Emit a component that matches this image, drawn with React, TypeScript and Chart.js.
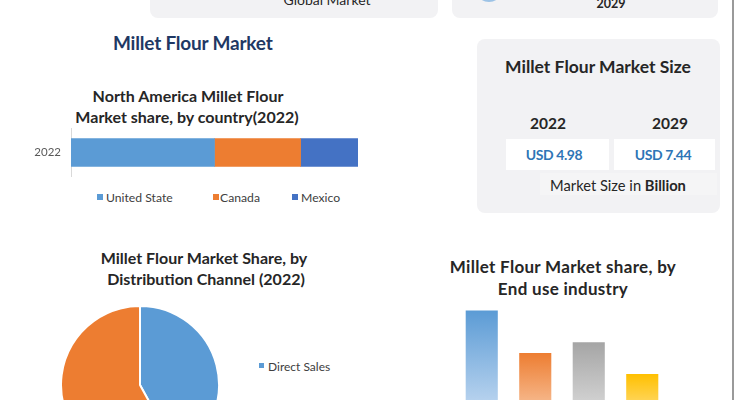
import React, { useEffect, useRef } from "react";
import { Chart, registerables } from "chart.js";

Chart.register(...registerables);

// ---------- data ----------
const countryYears = ["2022"];
const countryLabels = ["United State", "Canada", "Mexico"];
const countryShares = [50, 30, 20];
const countryColors = ["#5b9bd5", "#ed7d31", "#4472c4"];

const channelLabels = ["Direct Sales", "Indirect Sales"];
const channelShares = [42, 58];
const channelColors = ["#5b9bd5", "#ed7d31"];

const endUseLabels = ["Bakery Products", "Snacks", "Infant Food", "Others"];
const endUseShares = [36.5, 22.3, 25.9, 15.3];
const endUseTopColors = ["#5b9bd5", "#ed7d31", "#a5a5a5", "#ffc000"];
const endUseBottomColors = ["#c9ddf3", "#f9cba9", "#dedede", "#ffe291"];

const sizeYears = ["2022", "2029"];
const sizeValues = ["USD 4.98", "USD 7.44"];

const F = "Lato, 'Open Sans', sans-serif";

type TP = {
  x: number;
  y: number;
  size: number;
  weight?: number;
  color?: string;
  align?: "center" | "left";
  ls?: number;
  children: React.ReactNode;
};

function T({ x, y, size, weight = 400, color = "#262626", align = "center", ls = 0, children }: TP) {
  const lh = Math.round(size * 1.4);
  const w = 400;
  const style: React.CSSProperties = {
    position: "absolute",
    top: y - lh / 2,
    left: align === "center" ? x - w / 2 : x,
    width: align === "center" ? w : undefined,
    textAlign: align,
    fontSize: size,
    fontWeight: weight,
    lineHeight: lh + "px",
    color,
    letterSpacing: ls,
    whiteSpace: "nowrap",
    fontFamily: F,
  };
  return <div style={style}>{children}</div>;
}

function Box({ l, t, r, b, bg = "#f2f2f4", rad = 8 }: { l: number; t: number; r: number; b: number; bg?: string; rad?: number }) {
  return (
    <div
      style={{
        position: "absolute",
        left: l,
        top: t,
        width: r - l,
        height: b - t,
        background: bg,
        borderRadius: rad,
      }}
    />
  );
}

function CountryChart() {
  const ref = useRef<HTMLCanvasElement>(null);
  useEffect(() => {
    const chart = new Chart(ref.current!, {
      type: "bar",
      data: {
        labels: countryYears,
        datasets: countryLabels.map((l, i) => ({
          label: l,
          data: [countryShares[i]],
          backgroundColor: countryColors[i],
          borderWidth: 0,
          barThickness: 28,
        })),
      },
      options: {
        indexAxis: "y",
        responsive: false,
        animation: false,
        layout: { padding: 0 },
        plugins: { legend: { display: false }, tooltip: { enabled: false } },
        scales: {
          x: { stacked: true, display: false, min: 0, max: 100 },
          y: {
            stacked: true,
            grid: { display: false },
            border: { display: true, color: "#d9d9d9", width: 1 },
            ticks: { color: "#595959", font: { family: F, size: 11.5 }, padding: 2 },
            afterFit: (s: any) => {
              s.width = 50;
            },
          },
        },
      },
    });
    return () => chart.destroy();
  }, []);
  return (
    <canvas
      ref={ref}
      width={337}
      height={65}
      style={{ position: "absolute", left: 21, top: 120, width: 337, height: 65 }}
    />
  );
}

function ChannelChart() {
  const ref = useRef<HTMLCanvasElement>(null);
  useEffect(() => {
    const chart = new Chart(ref.current!, {
      type: "pie",
      data: {
        labels: channelLabels,
        datasets: [
          {
            data: channelShares,
            backgroundColor: channelColors,
            borderColor: "#ffffff",
            borderWidth: 2,
          },
        ],
      },
      options: {
        responsive: false,
        animation: false,
        layout: { padding: 0 },
        plugins: { legend: { display: false }, tooltip: { enabled: false } },
      },
    });
    return () => chart.destroy();
  }, []);
  return (
    <canvas
      ref={ref}
      width={160}
      height={160}
      style={{ position: "absolute", left: 60, top: 305, width: 160, height: 160 }}
    />
  );
}

function EndUseChart() {
  const ref = useRef<HTMLCanvasElement>(null);
  useEffect(() => {
    const chart = new Chart(ref.current!, {
      type: "bar",
      data: {
        labels: endUseLabels,
        datasets: [
          {
            data: endUseShares,
            borderWidth: 0,
            barPercentage: 0.6,
            categoryPercentage: 1,
            backgroundColor: (ctx: any) => {
              const c = ctx.chart;
              const area = c.chartArea;
              const i = ctx.dataIndex;
              if (!area || !c.scales.y) return endUseTopColors[i];
              const top = c.scales.y.getPixelForValue(endUseShares[i]);
              const bottom = c.scales.y.getPixelForValue(0);
              const g = c.ctx.createLinearGradient(0, top, 0, bottom);
              g.addColorStop(0, endUseTopColors[i]);
              g.addColorStop(1, endUseBottomColors[i]);
              return g;
            },
          },
        ],
      },
      options: {
        responsive: false,
        animation: false,
        layout: { padding: 0 },
        plugins: { legend: { display: false }, tooltip: { enabled: false } },
        scales: {
          x: { display: false },
          y: { display: false, min: 0, max: 40 },
        },
      },
    });
    return () => chart.destroy();
  }, []);
  return (
    <canvas
      ref={ref}
      width={214}
      height={120}
      style={{ position: "absolute", left: 455, top: 300, width: 214, height: 120 }}
    />
  );
}

export default function App() {
  const legendSq = [97, 213, 292];
  const legendTx = [106, 220, 301];
  return (
    <div
      style={{
        position: "fixed",
        left: 0,
        top: 0,
        width: 735,
        height: 400,
        overflow: "hidden",
        background: "#ffffff",
        fontFamily: F,
      }}
    >
      {/* top cut-off boxes */}
      <Box l={150} t={-40} r={438} b={18} />
      <T x={327} y={0} size={14} color="#262626">Global Market</T>
      <Box l={452} t={-40} r={718} b={18} />
      <div
        style={{
          position: "absolute",
          left: 476,
          top: -22,
          width: 26,
          height: 24,
          borderRadius: "50%",
          background: "#9dc3e6",
        }}
      />
      <T x={611} y={4} size={12.5} weight={700}>2029</T>

      {/* right border line */}
      <div style={{ position: "absolute", left: 732, top: 0, width: 2, height: 400, background: "#9a9a9a" }} />

      {/* main title */}
      <T x={113} y={42} size={19} weight={700} color="#1f3864" align="left" ls={-0.2}>
        Millet Flour Market
      </T>

      {/* market size card */}
      <Box l={477} t={39} r={720} b={213} />
      <T x={598} y={66} size={17.5} weight={700}>Millet Flour Market Size</T>
      {sizeYears.map((yr, i) => (
        <T key={yr} x={[548, 670][i]} y={123} size={15.5} weight={700}>
          {yr}
        </T>
      ))}
      <Box l={506} t={139} r={609} b={170} bg="#ffffff" rad={0} />
      <Box l={614} t={139} r={715} b={170} bg="#ffffff" rad={0} />
      {sizeValues.map((v, i) => (
        <T key={v} x={[554, 663][i]} y={155} size={14} weight={700} color="#2e75b6" ls={-0.4}>
          {v}
        </T>
      ))}
      <Box l={540} t={173} r={717} b={195} bg="#f5f5f6" rad={0} />
      <T x={618} y={185} size={14.7} color="#262626">
        Market Size in <b>Billion</b>
      </T>

      {/* North America chart */}
      <T x={188} y={96} size={16} weight={700}>North America Millet Flour</T>
      <T x={187} y={117} size={16} weight={700}>Market share, by country(2022)</T>
      <CountryChart />
      {countryLabels.map((l, i) => (
        <React.Fragment key={l}>
          <div
            style={{
              position: "absolute",
              left: legendSq[i],
              top: 194,
              width: 6,
              height: 6,
              background: countryColors[i],
            }}
          />
          <T x={legendTx[i]} y={197} size={12.2} color="#404040" align="left">
            {l}
          </T>
        </React.Fragment>
      ))}

      {/* distribution channel pie */}
      <T x={204} y={258} size={16} weight={700}>Millet Flour Market Share, by</T>
      <T x={206} y={279} size={16} weight={700}>Distribution Channel (2022)</T>
      <ChannelChart />
      {channelLabels.map((l, i) => (
        <React.Fragment key={l}>
          <div
            style={{
              position: "absolute",
              left: 259,
              top: 363 + i * 44,
              width: 5,
              height: 5,
              background: channelColors[i],
            }}
          />
          <T x={268} y={366 + i * 44} size={12} color="#404040" align="left">
            {l}
          </T>
        </React.Fragment>
      ))}

      {/* end use bar chart */}
      <T x={563} y={267} size={17} weight={700} ls={0.3}>Millet Flour Market share, by</T>
      <T x={563} y={289} size={17} weight={700} ls={0.3}>End use industry</T>
      <EndUseChart />
    </div>
  );
}
